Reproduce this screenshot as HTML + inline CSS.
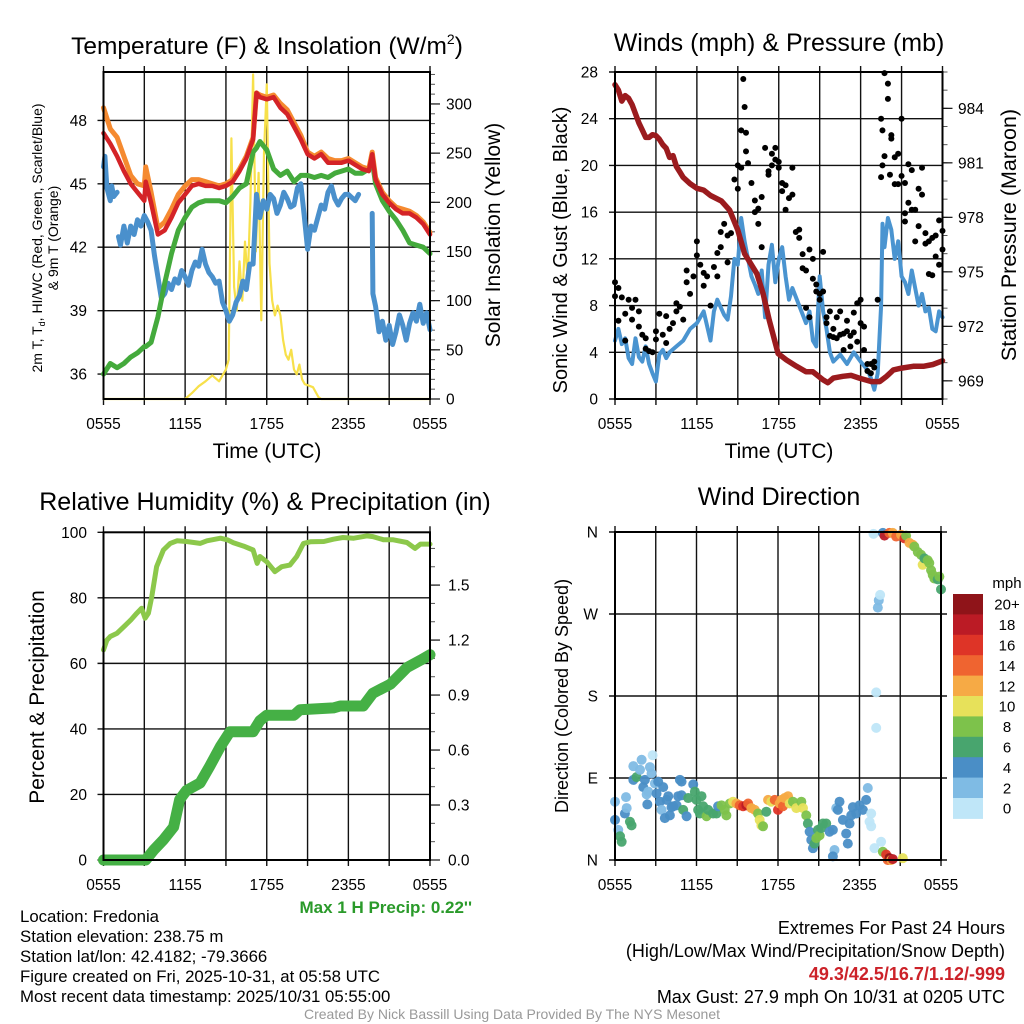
<!DOCTYPE html>
<html><head><meta charset="utf-8"><style>
html,body{margin:0;padding:0;background:#fff}
svg{display:block;font-family:"Liberation Sans",Arial,sans-serif}
</style></head><body>
<svg id="fig" width="1024" height="1024" viewBox="0 0 1024 1024" xmlns="http://www.w3.org/2000/svg">
<rect width="1024" height="1024" fill="#fff"/>
<g id="p1"></g>
<g id="p2"></g>
<g id="p3"></g>
<g id="p4"></g>
<text x="267" y="54" font-size="24.5" text-anchor="middle">Temperature (F) &amp; Insolation (W/m<tspan font-size="14" dy="-10">2</tspan><tspan dy="10">)</tspan></text>
<text x="779" y="51" font-size="25" text-anchor="middle">Winds (mph) &amp; Pressure (mb)</text>
<text x="265" y="510" font-size="25" text-anchor="middle">Relative Humidity (%) &amp; Precipitation (in)</text>
<text x="779" y="505" font-size="25" text-anchor="middle">Wind Direction</text>
<text x="267" y="458" font-size="21" text-anchor="middle">Time (UTC)</text>
<text x="779" y="458" font-size="21" text-anchor="middle">Time (UTC)</text>
<text font-size="14" text-anchor="middle" transform="translate(42,238) rotate(-90)">2m T, T<tspan font-size="9" dy="3">d</tspan><tspan dy="-3">, HI/WC (Red, Green, Scarlet/Blue)</tspan></text>
<text font-size="14" text-anchor="middle" transform="translate(58,238) rotate(-90)">&amp; 9m T (Orange)</text>
<text font-size="21" text-anchor="middle" transform="translate(500,235) rotate(-90)">Solar Insolation (Yellow)</text>
<text font-size="20" text-anchor="middle" transform="translate(567,250) rotate(-90)">Sonic Wind &amp; Gust (Blue, Black)</text>
<text font-size="21.5" text-anchor="middle" transform="translate(1016,235) rotate(-90)">Station Pressure (Maroon)</text>
<text font-size="21" text-anchor="middle" transform="translate(44,697) rotate(-90)">Percent &amp; Precipitation</text>
<text font-size="18" text-anchor="middle" transform="translate(568,696) rotate(-90)">Direction (Colored By Speed)</text>
<text x="472" y="913" font-size="17" font-weight="bold" fill="#2a9a2a" text-anchor="end">Max 1 H Precip: 0.22''</text>
<g font-size="16.8">
<text x="20" y="922">Location: Fredonia</text>
<text x="20" y="942">Station elevation: 238.75 m</text>
<text x="20" y="962">Station lat/lon: 42.4182; -79.3666</text>
<text x="20" y="982">Figure created on Fri, 2025-10-31, at 05:58 UTC</text>
<text x="20" y="1002">Most recent data timestamp: 2025/10/31 05:55:00</text>
</g>
<g font-size="18" text-anchor="end">
<text x="1005" y="934">Extremes For Past 24 Hours</text>
<text x="1005" y="957">(High/Low/Max Wind/Precipitation/Snow Depth)</text>
<text x="1005" y="980" font-weight="bold" fill="#cc2229">49.3/42.5/16.7/1.12/-999</text>
<text x="1005" y="1003">Max Gust: 27.9 mph On 10/31 at 0205 UTC</text>
</g>
<text x="512" y="1019" font-size="14" fill="#999" text-anchor="middle">Created By Nick Bassill Using Data Provided By The NYS Mesonet</text>
</svg>
<script>
// ---------- DATA ----------
const xTickLabels=["0555","1155","1755","2355","0555"];
const tempTicks=[36,39,42,45,48];
const solarTicks=[0,50,100,150,200,250,300];
const windTicks=[0,4,8,12,16,20,24,28];
const presTicks=[969,972,975,978,981,984];
const rhTicks=[0,20,40,60,80,100];
const precipTicks=[0.0,0.3,0.6,0.9,1.2,1.5];
const dirTicks=[0,90,180,270,360];
const dirTickLabels=["N","E","S","W","N"];
const speedBins=[0,2,4,6,8,10,12,14,16,18,20];
const speedBinLabels=["0","2","4","6","8","10","12","14","16","18","20+"];

const tHours=[0,0.5,1,1.5,2,2.5,3,3.1,3.5,4,4.5,5,5.5,6,6.5,7,7.5,8,8.5,9,9.5,10,10.5,11,11.25,11.5,12,12.5,13,13.5,14,14.5,15,15.5,16,16.5,17,17.5,18,18.5,19,19.5,19.75,20,20.5,21,21.5,22,22.5,23,23.5,24];
const redT=[47.4,46.9,46.3,45.6,45.0,44.6,44.2,45.1,44.1,42.6,42.8,43.4,44.1,44.5,44.9,45.0,44.9,44.9,44.8,44.9,45.1,45.6,46.2,47.1,49.3,49.1,49.0,49.1,48.6,48.3,47.7,47.1,46.4,46.2,46.4,46.0,46.0,46.0,46.1,45.9,45.7,45.6,46.4,45.2,44.5,44.1,43.8,43.6,43.6,43.4,43.1,42.6];
const orangeT=[48.6,47.6,47.2,46.3,45.4,45.0,44.9,45.8,44.6,42.9,43.2,43.8,44.5,44.9,45.2,45.2,45.1,45.0,44.9,45.0,45.2,45.7,46.3,47.2,49.3,49.2,49.1,49.2,48.8,48.5,47.9,47.3,46.5,46.3,46.5,46.2,46.1,46.1,46.2,46.0,45.8,45.7,46.5,45.3,44.6,44.2,43.9,43.8,43.7,43.5,43.2,42.7];
const greenHI=[36.0,36.5,36.3,36.5,36.8,37.0,37.3,37.3,37.5,38.7,40.3,41.7,42.8,43.4,43.9,44.1,44.2,44.2,44.2,44.1,44.4,44.8,45.0,46.5,46.7,47.0,46.6,45.7,45.4,45.6,45.1,45.4,45.4,45.3,45.4,45.3,45.5,45.6,45.7,45.5,45.5,45.7,46.1,45.0,44.2,43.7,43.3,42.8,42.2,42.1,42.0,41.7];
const tdHours=[0,0.1,0.25,0.5,0.6,0.75,1.0,1.05,1.1,1.25,1.5,1.75,2,2.25,2.5,2.75,3,3.25,3.5,3.75,4,4.25,4.5,4.75,5,5.25,5.5,5.75,6,6.25,6.5,6.75,7,7.25,7.5,7.75,8,8.25,8.5,8.75,9,9.25,9.5,9.75,10,10.25,10.5,10.75,11,11.25,11.5,11.75,12,12.25,12.5,12.75,13,13.25,13.5,13.75,14,14.25,14.5,14.75,15,15.25,15.5,15.75,16,16.25,16.5,16.75,17,17.25,17.5,17.75,18,18.5,18.75,18.8,19.75,19.8,20,20.25,20.5,20.75,21,21.25,21.5,21.75,22,22.25,22.5,22.75,23,23.25,23.5,23.75,24];
const tdValues=[45.8,46.3,44.8,44.2,44.9,44.4,44.6,null,42.5,42.1,43.0,42.2,43.0,42.6,43.3,43.0,43.5,43.2,42.8,41.6,40.6,39.6,39.8,40.3,40.0,40.5,40.3,40.9,40.6,40.2,40.9,41.3,41.1,41.9,41.2,40.8,40.6,40.3,40.4,39.4,39.0,38.5,38.8,39.4,39.7,40.4,40.0,41.2,41.2,44.5,43.4,44.2,43.8,44.5,44.3,43.6,44.0,44.6,44.3,43.9,44.0,44.8,45.0,43.5,41.9,43.0,42.8,43.4,44.0,43.8,44.6,44.9,44.3,44.0,44.3,44.5,44.5,44.2,44.5,null,43.6,39.8,39.2,38.0,38.5,37.6,38.3,37.4,38.0,38.8,38.3,37.6,38.4,38.9,38.5,39.3,38.4,38.9,38.1];
const solarHours=[0,6,6.5,7,7.5,8,8.5,9,9.2,9.4,9.6,9.8,10,10.2,10.4,10.6,10.8,11,11.2,11.4,11.6,11.8,12,12.2,12.4,12.6,12.8,13,13.2,13.4,13.6,13.8,14,14.2,14.4,14.6,14.8,15,15.4,15.8,16,24];
const solarValues=[0,0,6,13,18,24,18,30,40,265,114,90,140,100,160,120,200,330,150,230,80,250,320,138,100,85,95,85,60,45,40,50,30,25,35,20,15,14,12,2,0,0];

const windHours=[0,0.25,0.5,0.75,1,1.25,1.5,1.75,2,2.25,2.5,2.75,3,3.25,3.5,3.75,4,4.5,5,5.5,6,6.5,7,7.25,7.5,8,8.25,8.5,8.75,9,9.25,9.5,9.75,10,10.25,10.5,10.75,11,11.25,11.5,11.75,12,12.25,12.5,12.75,13,13.5,14,14.25,14.5,14.75,15,15.25,15.5,15.75,16,16.5,17,17.5,18,18.5,18.75,19,19.25,19.5,19.6,19.75,20,20.25,20.5,20.75,21,21.25,21.5,21.75,22,22.25,22.5,22.75,23,23.25,23.5,23.75,24];
const windValues=[5.0,6.0,4.7,5.2,3.5,3.0,5.2,3.6,3.2,4.5,3.0,2.2,1.5,3.8,4.2,3.5,4.0,4.5,5.0,6.0,6.5,7.5,5.0,7.5,8.5,7.2,6.8,8.8,12.0,11.5,15.5,13.5,12.0,10.5,9.8,9.0,11.0,7.0,11.5,13.2,10.0,12.0,13.0,10.5,8.5,9.5,8.0,6.5,7.5,5.0,4.5,10.5,7.5,6.0,4.0,3.2,3.8,3.0,4.0,3.2,2.5,1.8,0.8,2.2,8.0,15.0,13.0,15.5,14.5,12.0,13.5,10.5,10.0,9.0,11.0,9.5,8.0,9.0,7.5,7.8,6.0,5.8,7.5,7.0];
const gustHours=[0,0,0.25,0.25,0.5,0.75,0.75,1,1.25,1.25,1.5,1.75,1.75,2,2.25,2.25,2.5,2.75,3,3,3.25,3.5,3.75,3.75,4,4.25,4.5,4.5,4.75,5,5.25,5.25,5.5,5.75,6,6,6.25,6.5,6.5,6.75,7,7.25,7.5,7.5,7.75,7.75,8,8.25,8.25,8.5,8.75,9,9,9.25,9.25,9.4,9.5,9.6,9.6,9.75,10,10.25,10.25,10.5,10.5,10.75,10.75,11,11.25,11.25,11.5,11.5,11.75,11.75,12,12,12.25,12.25,12.5,12.5,12.75,13,13,13.25,13.5,13.5,13.75,13.75,14,14,14.25,14.25,14.5,14.5,14.75,14.75,15,15,15.25,15.25,15.5,15.5,15.75,15.75,16,16,16.25,16.25,16.5,16.5,16.75,16.75,17,17,17.25,17.25,17.5,17.5,17.75,17.75,18,18,18.25,18.25,18.5,18.5,18.75,18.75,19,19,19.25,19.5,19.5,19.6,19.6,19.75,19.75,20,20,20.15,20.25,20.25,20.5,20.5,20.75,20.75,21,21,21.25,21.25,21.25,21.5,21.5,21.75,21.75,22,22,22.25,22.25,22.5,22.5,22.75,22.75,23,23,23.25,23.25,23.5,23.5,23.75,23.75,24,24];
const gustValues=[8.8,10.0,9.5,6.7,8.7,7.3,5.0,8.5,7.8,6.8,8.5,6.2,7.5,5.5,5.2,4.3,4.1,4.0,5.8,5.1,7.3,5.5,7.1,4.8,6.0,6.5,8.2,7.5,7.9,6.8,11.0,10.0,9.0,10.5,13.5,12.3,11.5,10.8,9.7,10.5,8.0,11.3,12.5,10.5,14.3,13.0,15.0,11.7,14.0,14.2,18.8,20.0,18.0,23.0,19.8,27.4,25.0,22.8,21.2,20.2,18.5,17.0,16.0,15.0,16.3,13.0,17.3,21.5,19.5,19.2,21.0,20.0,20.5,21.5,20.3,19.8,18.5,17.8,18.3,16.2,17.2,17.5,19.8,14.3,14.5,13.8,12.4,11.2,11.0,7.8,7.0,12.8,10.3,12.0,9.8,9.2,9.0,8.5,12.6,9.2,7.0,6.5,5.4,7.5,5.3,6.0,5.2,7.0,5.5,7.5,5.6,4.2,5.8,6.7,5.4,4.5,7.4,5.7,4.9,8.2,8.5,6.5,6.2,4.2,3.0,2.4,2.2,3.0,3.2,2.7,8.5,19.0,24.0,23.0,20.0,20.8,27.9,27.0,25.7,19.2,22.3,22.6,20.7,18.4,18.4,21.0,24.0,19.1,15.9,15.2,18.5,20.1,16.8,19.6,16.2,13.5,16.2,18.0,14.8,17.5,19.8,14.2,13.3,13.5,10.7,13.8,10.6,12.2,14.0,15.3,11.5,14.4,12.8];
const presHours=[0,0.25,0.5,0.75,1,1.25,1.5,1.75,2,2.25,2.5,2.75,3,3.25,3.5,3.75,4,4.25,4.5,4.75,5,5.5,6,6.5,7,7.8,8.4,9.0,9.5,10.4,10.85,11.3,11.95,12.56,13.3,14.0,14.5,15.25,15.6,16.0,16.7,17.3,17.9,18.8,19.4,19.9,20.4,21.0,21.85,22.6,23.3,24];
const presValues=[985.3,985.0,984.4,984.7,984.55,984.2,983.7,983.2,982.8,982.4,982.4,982.55,982.5,982.3,982.0,981.8,981.3,981.4,980.8,980.5,980.2,979.85,979.6,979.5,979.2,978.9,978.4,977.3,976.0,974.9,973.8,972.35,970.5,970.15,969.8,969.5,969.5,969.05,968.9,969.15,969.25,969.3,969.15,968.96,968.96,969.25,969.6,969.7,969.8,969.8,969.9,970.1];

const rhHours=[0,0.25,0.5,1.0,1.5,2.0,2.45,2.8,3.06,3.3,3.55,3.9,4.4,4.9,5.4,6.1,7.1,7.6,8.6,9.1,9.55,10.3,11.0,11.3,11.5,12.0,12.6,13.1,13.7,14.2,14.7,15.2,16.2,16.9,17.6,18.4,19.35,19.8,20.6,21.3,22.3,22.9,23.3,24];
const rhValues=[64.1,67.1,68.2,69.2,71.2,73.2,75.3,76.8,73.8,75.3,80.4,89.5,94.6,96.6,97.4,97.2,96.6,97.4,98.2,97.7,96.8,95.8,94.6,90.5,92.6,91.0,88.0,89.5,90.0,92.6,96.6,97.1,97.2,97.9,98.4,98.2,98.9,98.7,97.7,97.7,96.9,95.1,96.4,96.4];
const precipHours=[0,3.1,3.7,4.4,5.15,5.6,6.1,7.1,7.8,8.6,9.3,11.0,11.5,12.0,14.0,14.45,16.9,17.4,19.1,19.8,21.1,22.3,23.3,24];
const precipValues=[0,0,0.055,0.11,0.18,0.33,0.38,0.42,0.51,0.62,0.70,0.70,0.76,0.79,0.79,0.82,0.83,0.84,0.84,0.91,0.96,1.05,1.09,1.12];

const dirHours=[0,0,0.24,0.37,0.49,0.73,0.86,0.81,1.1,1.22,1.35,1.35,1.59,1.84,1.96,2.08,2.2,2.33,2.45,2.38,2.57,2.69,2.77,2.94,3.06,3.18,3.31,3.43,3.55,3.67,3.8,3.92,4.04,4.16,4.29,4.53,4.65,4.78,4.9,4.9,5.02,5.27,5.39,5.76,5.88,6.0,6.12,6.25,6.37,6.49,6.74,6.86,7.22,7.47,7.59,7.84,8.08,8.2,8.45,8.69,8.94,9.18,9.43,9.67,9.8,10.04,10.29,10.53,10.65,10.78,10.9,11.14,11.27,11.51,11.76,12.0,12.12,12.25,12.37,12.49,12.74,12.86,13.1,13.35,13.72,13.84,14.08,14.2,14.33,14.45,14.57,14.69,14.82,14.94,15.06,15.18,15.31,15.55,15.8,16.04,16.16,16.04,16.29,16.41,16.53,16.78,17.02,17.14,17.27,17.39,17.51,17.76,18.0,18.25,18.49,18.61,18.86,18.74,18.86,19.1,19.59,19.23,19.23,19.35,19.42,19.52,19.03,19.72,19.84,20.2,20.45,20.7,21.06,21.31,21.43,21.68,21.92,22.04,22.29,22.53,22.65,22.78,23.02,23.14,23.27,23.39,23.51,23.76,23.88,24.0,19.72,19.96,20.08,20.2,20.33,20.45,21.19];
const dirValues=[64,44,33,26,20,51,57,69,42,38,88,103,91,99,110,80,88,72,75,61,102,95,115,84,73,86,64,55,80,46,66,70,49,58,59,60,70,88,71,86,55,48,68,83,75,66,55,51,70,59,48,55,51,51,59,60,55,49,62,64,62,60,59,60,62,57,55,51,44,38,37,53,66,64,66,55,62,66,59,68,70,62,64,57,64,57,49,40,31,22,13,18,24,33,27,35,40,40,31,33,11,4,57,55,64,44,29,18,40,49,58,51,60,55,66,79,51,42,37,13,20,145,184,277,285,291,358,359,356,359,359,355,357,353,356,348,346,344,338,335,324,331,329,326,318,313,309,308,311,297,9,6,0,2,0,1,2];
const dirSpeeds=[3,4,3,6,6,4,2,3,6,6,4,2,6,3,2,4,4,2,3,4,2,2,1,2,4,4,4,3,4,4,4,4,4,4,4,4,4,4,4,4,6,4,6,4,6,6,6,6,6,6,8,6,6,6,4,8,8,8,8,10,12,14,16,18,14,12,12,8,10,10,8,6,12,10,14,16,12,12,14,12,12,10,8,10,8,10,8,6,4,4,4,6,8,6,8,6,6,6,4,4,2,4,2,4,4,4,4,4,4,4,4,4,4,4,4,2,1,1,1,1,1,1,1,2,2,1,1,4,18,14,12,14,12,16,8,12,12,8,8,8,10,6,8,8,8,8,8,6,8,6,8,16,14,20,12,18,10];

// ---------- HELPERS ----------
const NS="http://www.w3.org/2000/svg";
const TF=15.5;
function mk(parent,tag,attrs){const e=document.createElementNS(NS,tag);for(const k in attrs)e.setAttribute(k,attrs[k]);parent.appendChild(e);return e;}
function lin(d0,d1,r0,r1){return v=>r0+(v-d0)*(r1-r0)/(d1-d0);}
const binColors=["#bfe6f8","#7fbbe4","#4a8ec6","#48a56e","#7dc24b","#e7e15a","#f6aa45","#ef6430","#de3427","#bb1b25","#8f1419"];
function speedColor(s){let i=Math.floor(s/2);if(i>10)i=10;if(i<0)i=0;return binColors[i];}
function pathFrom(hs,vs,xf,yf){let d="",pen=false;for(let i=0;i<hs.length;i++){if(vs[i]===null){pen=false;continue;}d+=(pen?"L":"M")+xf(hs[i]).toFixed(1)+","+yf(vs[i]).toFixed(1);pen=true;}return d;}

function frame(g,L,R,T,B,name,xLabY){
  const xf=lin(0,24,L,R);
  for(let h=0;h<=24;h+=3){
    const l=mk(g,'line',{x1:xf(h),x2:xf(h),y1:T-6,y2:B+6,stroke:'#111','stroke-width':1.4});
    
    
  }
  xTickLabels.forEach((s,i)=>{
    const t=mk(g,'text',{x:xf(i*6),y:xLabY,'font-size':TF,'text-anchor':'middle'});
    t.textContent=s;
    
    
  });
  return xf;
}
function hgrid(g,yf,ticks,L,R,name,labels,labX){
  ticks.forEach((v,i)=>{
    const l=mk(g,'line',{x1:L-6,x2:R,y1:yf(v),y2:yf(v),stroke:'#111','stroke-width':1.4});
    
    
    const t=mk(g,'text',{x:labX,y:yf(v)+5.5,'font-size':TF,'text-anchor':'end'});
    t.textContent=labels?labels[i]:String(v);
    
    
  });
}
function rightAxis(g,yf,ticks,minorStep,lo,hi,R,name,fmt,labX){
  for(let v=lo;v<=hi+1e-9;v+=minorStep){
    const l=mk(g,'line',{x1:R,x2:R+5,y1:yf(v),y2:yf(v),stroke:'#555','stroke-width':1});
    
    
  }
  ticks.forEach(v=>{
    const l=mk(g,'line',{x1:R,x2:R+10,y1:yf(v),y2:yf(v),stroke:'#111','stroke-width':1.2});
    
    
    const t=mk(g,'text',{x:labX,y:yf(v)+5.5,'font-size':TF});
    t.textContent=fmt(v);
    
    
  });
}
function border(g,L,R,T,B,name){
  const r=mk(g,'rect',{x:L,y:T,width:R-L,height:B-T,fill:'none',stroke:'#000','stroke-width':2});
  
  
}
function line(g,d,color,w,name){
  const p=mk(g,'path',{d:d,fill:'none',stroke:color,'stroke-width':w,'stroke-linejoin':'round','stroke-linecap':'round'});
  
  
}

// ---------- PANEL 1 ----------
(function(){
  const g=document.getElementById('p1');const L=103.5,R=430,T=72,B=399;
  const xf=frame(g,L,R,T,B,'p1',429);
  const yT=lin(34.82,50.29,B,T);const yS=lin(0,332.5,B,T);
  hgrid(g,yT,tempTicks,L,R,'p1',null,87);
  rightAxis(g,yS,solarTicks,10,0,330,R,'p1',v=>String(v),446);
  line(g,pathFrom(solarHours,solarValues,xf,yS),'#f7e04a',2.2,'solar-line');
  line(g,pathFrom(tdHours,tdValues,xf,yT),'#4a90cc',5,'dewpoint-line');
  line(g,pathFrom(tHours,greenHI,xf,yT),'#44aa3c',5,'heat-index-line');
  line(g,pathFrom(tHours,orangeT,xf,yT),'#f58a30',5,'temp-9m-line');
  line(g,pathFrom(tHours,redT,xf,yT),'#d42327',4.5,'temp-2m-line');
  border(g,L,R,T,B,'p1');
})();
// ---------- PANEL 2 ----------
(function(){
  const g=document.getElementById('p2');const L=615,R=942.5,T=72,B=399;
  const xf=frame(g,L,R,T,B,'p2',429);
  const yW=lin(0,28,B,T);const yP=lin(968,986,B,T);
  hgrid(g,yW,windTicks,L,R,'p2',null,598);
  rightAxis(g,yP,presTicks,1,968,986,R,'p2',v=>String(v),958);
  line(g,pathFrom(windHours,windValues,xf,yW),'#4a94d0',4,'sonic-wind-line');
  gustHours.forEach((h,i)=>{
    const c=mk(g,'circle',{cx:xf(h),cy:yW(gustValues[i]),r:3,fill:'#000'});
    
    
  });
  line(g,pathFrom(presHours,presValues,xf,yP),'#9b1b1e',5.5,'pressure-line');
  border(g,L,R,T,B,'p2');
})();
// ---------- PANEL 3 ----------
(function(){
  const g=document.getElementById('p3');const L=103.5,R=430,T=532.3,B=860;
  const xf=frame(g,L,R,T,B,'p3',890);
  const yR=lin(0,100,B,T);const yIn=lin(0,1.788,B,T);
  hgrid(g,yR,rhTicks,L,R,'p3',null,87);
  rightAxis(g,yIn,precipTicks,0.1,0,1.75,R,'p3',v=>v.toFixed(1),448);
  line(g,pathFrom(rhHours,rhValues,xf,yR),'#8cc84b',5,'humidity-line');
  line(g,pathFrom(precipHours,precipValues,xf,yIn),'#45b045',11,'precip-line');
  border(g,L,R,T,B,'p3');
})();
// ---------- PANEL 4 ----------
(function(){
  const g=document.getElementById('p4');const L=615,R=941,T=532,B=860;
  const xf=frame(g,L,R,T,B,'p4',890);
  const yD=lin(0,360,B,T);
  hgrid(g,yD,dirTicks,L,R+6,'p4',dirTickLabels,598);
  dirHours.forEach((h,i)=>{
    const c=mk(g,'circle',{cx:xf(h),cy:yD(dirValues[i]),r:5,fill:speedColor(dirSpeeds[i]),'fill-opacity':0.95});
    
    
  });
  border(g,L,R,T,B,'p4');
  const cb=mk(g,'g',{});
  
  
  const t0=mk(cb,'text',{x:1007,y:588,'font-size':15,'text-anchor':'middle'});
  t0.textContent='mph';
  
  
  const top=594,bh=20.4;
  speedBins.slice().reverse().forEach((b,i)=>{
    const r=mk(cb,'rect',{x:953,y:top+i*bh,width:30,height:bh+0.5,fill:speedColor(b)});
    
    
    const t=mk(cb,'text',{x:1007,y:top+i*bh+bh/2+5.5,'font-size':15,'text-anchor':'middle'});
    t.textContent=speedBinLabels[speedBins.length-1-i];
    
    
  });
})();
</script>
</body></html>
